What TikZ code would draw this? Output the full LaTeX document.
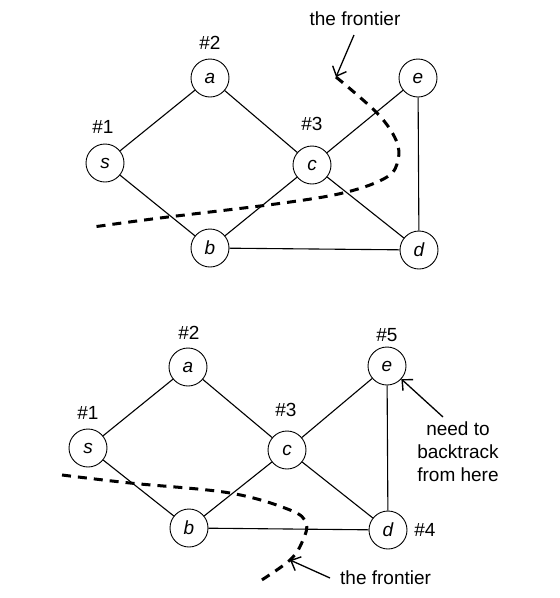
\documentclass[tikz,border=0pt]{standalone}
\usepackage{fontspec}
\setmainfont{Liberation Sans}
\usetikzlibrary{arrows.meta}

\tikzset{
  vertex/.style={draw, circle, line width=0.9pt, minimum size=38pt, inner sep=0pt, font=\fontsize{19}{21}\selectfont\itshape},
  lbl/.style={font=\fontsize{19}{22}\selectfont, inner sep=0pt},
  edge/.style={line width=1.1pt},
  frontier/.style={line width=3pt, dash pattern=on 9pt off 7pt},
  pointer/.style={line width=1.3pt, -{Straight Barb[length=8pt, width=15pt, line width=1.4pt]}}
}

\begin{document}
\begin{tikzpicture}[x=1pt, y=-1pt]
  \useasboundingbox (0,0) rectangle (560,598);

  % top graph
  \node (s1) [vertex] at (105,163) {s};
  \node (a1) [vertex] at (210,78) {a};
  \node (c1) [vertex] at (312,165) {c};
  \node (b1) [vertex] at (210,248) {b};
  \node (e1) [vertex] at (418,78) {e};
  \node (d1) [vertex] at (419,250) {d};
  \node (n11) [lbl] at (103,127) {\#1};
  \node (n12) [lbl] at (210,43) {\#2};
  \node (n13) [lbl] at (312,124) {\#3};

  % bottom graph
  \node (s2) [vertex] at (88,448) {s};
  \node (a2) [vertex] at (188,367) {a};
  \node (c2) [vertex] at (287,450) {c};
  \node (b2) [vertex] at (189,528) {b};
  \node (e2) [vertex] at (387,366) {e};
  \node (d2) [vertex] at (388,530) {d};
  \node (n21) [lbl] at (88,413) {\#1};
  \node (n22) [lbl] at (189,333) {\#2};
  \node (n23) [lbl] at (286,410) {\#3};
  \node (n24) [lbl] at (425,530) {\#4};
  \node (n25) [lbl] at (387,335) {\#5};

  \foreach \g in {1,2}
    \foreach \u/\v in {s/a,a/c,s/b,b/c,c/e,c/d,b/d,e/d}
      \draw [edge] (\u\g) -- (\v\g);

  % frontiers
  \coordinate (f1) at (336,77);
  \draw [frontier] plot[smooth, tension=0.6] coordinates {(f1) (377,113) (396,140) (398,160) (387,177) (347,192) (283,203) (160,218) (93,227)};
  \coordinate (f2) at (290,560);
  \draw [frontier] plot[smooth, tension=0.6] coordinates {(62,475) (130,483) (230,493) (290,510) (306,523) (303,540) (f2) (257,583)};

  \node (t1) [lbl] at (355,19) {the frontier};
  \draw [pointer] (354,35) -- (f1);
  \node (t2) [lbl, anchor=west] at (340,578) {the frontier};
  \draw [pointer] ([xshift=-10pt]t2.west) -- (f2);

  \node (bt) [lbl, align=center, font=\fontsize{19}{23}\selectfont] at (458,452) {need to\\backtrack\\from here};
  \draw [pointer] (443,417) -- (e2);
\end{tikzpicture}
\end{document}
